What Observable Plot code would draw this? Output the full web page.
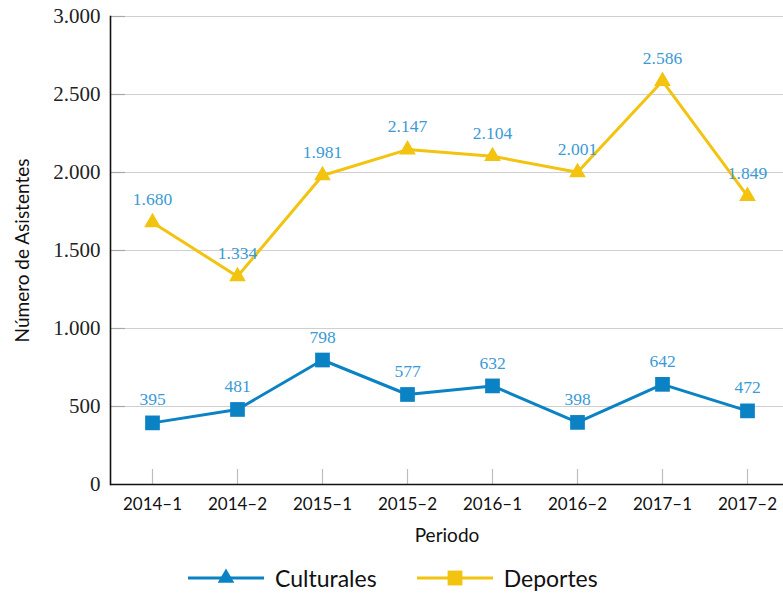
<!DOCTYPE html>
<html>
<head>
<meta charset="utf-8">
<script src="https://cdn.jsdelivr.net/npm/d3@7"></script>
<script src="https://cdn.jsdelivr.net/npm/@observablehq/plot@0.6"></script>
<style>
  html, body { margin: 0; padding: 0; background: #fff; }
  #chart { width: 783px; }
  .legend { display: flex; justify-content: flex-start; align-items: center; height: 48px; margin-top: 4px; font-family: Lato, "Open Sans", sans-serif; font-size: 23px; color: #111; }
  .legend .item { display: flex; align-items: center; }
  .legend svg { display: block; }
</style>
</head>
<body>
<div id="chart"></div>
<script>
const periods = ["2014–1","2014–2","2015–1","2015–2","2016–1","2016–2","2017–1","2017–2"];
const culturales = [395, 481, 798, 577, 632, 398, 642, 472];
const deportes = [1680, 1334, 1981, 2147, 2104, 2001, 2586, 1849];
const yTicks = [0, 500, 1000, 1500, 2000, 2500, 3000];

const blue = "#0a82c4";
const yellow = "#f2c30f";
const labelBlue = "#3a9ad6";

const fmt = d3.formatLocale({decimal: ",", thousands: ".", grouping: [3], currency: ["", ""]}).format(",");

const rows = [];
periods.forEach((p, i) => {
  rows.push({period: p, value: culturales[i], series: "Culturales"});
  rows.push({period: p, value: deportes[i], series: "Deportes"});
});
const cult = rows.filter(d => d.series === "Culturales");
const dep = rows.filter(d => d.series === "Deportes");

const W = 783, H = 550, mL = 110, mR = 0, mT = 16, mB = 66;
const plotW = W - mL - mR, plotH = H - mT - mB;

const chart = Plot.plot({
  width: W, height: H,
  marginLeft: mL, marginRight: mR, marginTop: mT, marginBottom: mB,
  style: {background: "#fff", overflow: "visible"},
  x: {type: "point", domain: periods, padding: 0, range: [151, 747], label: null},
  y: {domain: [0, 3000], label: null},
  marks: [
    Plot.ruleY(yTicks.filter(d => d > 0), {y: d => d, stroke: "#cfcfcf", strokeWidth: 1.2}),
    Plot.ruleY(yTicks.filter(d => d > 0), {y: d => d, stroke: "#a8a8a8", strokeWidth: 1.2, insetRight: plotW - 15}),
    Plot.ruleX(periods, {x: d => d, stroke: "#bdbdbd", strokeWidth: 1.2, insetTop: plotH - 15}),
    Plot.axisY({ticks: yTicks, tickSize: 0, tickPadding: 10, tickFormat: fmt, fontSize: 21, fontFamily: "'Liberation Serif', 'DejaVu Serif', serif", color: "#222", label: null}),
    Plot.axisX({tickSize: 0, tickPadding: 13, fontSize: 17, fontFamily: "Lato, 'Open Sans', sans-serif", color: "#111", label: null}),
    Plot.ruleY([0], {stroke: "#111", strokeWidth: 1.6}),
    Plot.frame({anchor: "left", stroke: "#111", strokeWidth: 1.6}),
    Plot.line(dep, {x: "period", y: "value", stroke: yellow, strokeWidth: 3}),
    Plot.line(cult, {x: "period", y: "value", stroke: blue, strokeWidth: 3}),
    Plot.dot(dep, {x: "period", y: "value", symbol: "triangle", r: 6.2, fill: yellow, stroke: "none"}),
    Plot.dot(cult, {x: "period", y: "value", symbol: "square", r: 8.3, fill: blue, stroke: "none"}),
    Plot.text(rows, {x: "period", y: "value", text: d => fmt(d.value), dy: -23, fill: labelBlue, fontSize: 17.5, fontFamily: "'Liberation Serif', 'DejaVu Serif', serif"}),
    Plot.text(["Periodo"], {frameAnchor: "bottom", dy: 57, text: d => d, fontSize: 19, fontFamily: "Lato, 'Open Sans', sans-serif", fill: "#111"}),
    Plot.text(["Número de Asistentes"], {frameAnchor: "left", textAnchor: "middle", dx: -88, rotate: -90, text: d => d, fontSize: 19, fontFamily: "Lato, 'Open Sans', sans-serif", fill: "#111"})
  ]
});
document.getElementById("chart").appendChild(chart);

// Legend (as in the reference)
const legend = d3.select("#chart").append("div").attr("class", "legend").style("padding-left", "186px");
function addItem(label, color, symbol, gap) {
  const item = legend.append("div").attr("class", "item").style("margin-right", gap + "px");
  const svg = item.append("svg").attr("width", 80).attr("height", 24);
  svg.append("line").attr("x1", 2).attr("x2", 78).attr("y1", 12).attr("y2", 12).attr("stroke", color).attr("stroke-width", 3);
  svg.append("path").attr("transform", "translate(40,12)").attr("d", d3.symbol(symbol, symbol === d3.symbolSquare ? 220 : 120)()).attr("fill", color);
  item.append("span").style("margin-left", "9px").text(label);
}
addItem("Culturales", blue, d3.symbolTriangle, 38);
addItem("Deportes", yellow, d3.symbolSquare, 0);
</script>
</body>
</html>
